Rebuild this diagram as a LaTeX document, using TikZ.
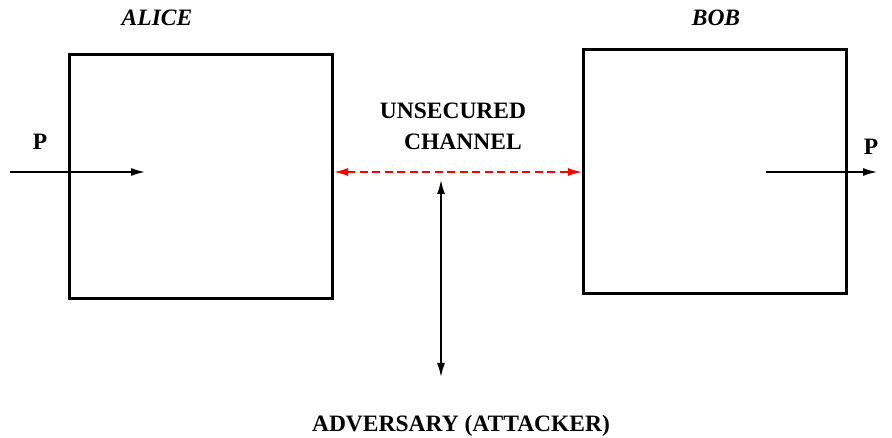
\documentclass[tikz,border=0pt]{standalone}
\usepackage{fontspec}
\setmainfont{Liberation Serif}
\usetikzlibrary{arrows.meta}
\begin{document}
\begin{tikzpicture}[x=1pt,y=-1pt,
  party/.style={draw,line width=3pt,minimum width=263pt,minimum height=244pt,inner sep=0pt},
  lbl/.style={font=\fontsize{23.5}{28}\selectfont\bfseries,anchor=base,inner sep=0pt},
  whoname/.style={font=\fontsize{23.5}{28}\selectfont\bfseries\itshape,anchor=base,inner sep=0pt},
  flow/.style={line width=1.6pt,-{Latex[length=14pt,width=8pt]}},
  chan/.style={red,line width=1.6pt,dash pattern=on 8pt off 4.5pt,{Latex[length=14pt,width=8pt]}-{Latex[length=14pt,width=8pt]}},
  attack/.style={line width=1.6pt,{Latex[length=14pt,width=8pt]}-{Latex[length=14pt,width=8pt]}}]
\useasboundingbox (0,0) rectangle (892,438);
\node[party] (alice) at (201,176.5) {};
\node[party] (bob) at (715,172) {};
\node[whoname] (alicel) at (157,26) {ALICE};
\node[whoname] (bobl) at (716,26) {BOB};
\node[lbl] (pl) at (40,150) {P};
\node[lbl] (pr) at (871,155) {P};
\node[lbl] (uns) at (453,119) {UNSECURED};
\node[lbl] (chn) at (463,150) {CHANNEL};
\node[lbl] (adv) at (461,431) {ADVERSARY (ATTACKER)};
\coordinate (pin) at (10,172);
\coordinate (pinend) at (145,172);
\coordinate (pout) at (766,172);
\coordinate (poutend) at (877,172);
\coordinate (att) at (441,180);
\coordinate (attend) at (441,377);
\draw[flow] (pin) -- (pinend);
\draw[flow] (pout) -- (poutend);
\draw[chan] (alice.east |- pin) -- (bob.west |- pin);
\draw[attack] (att) -- (attend);
\end{tikzpicture}
\end{document}
